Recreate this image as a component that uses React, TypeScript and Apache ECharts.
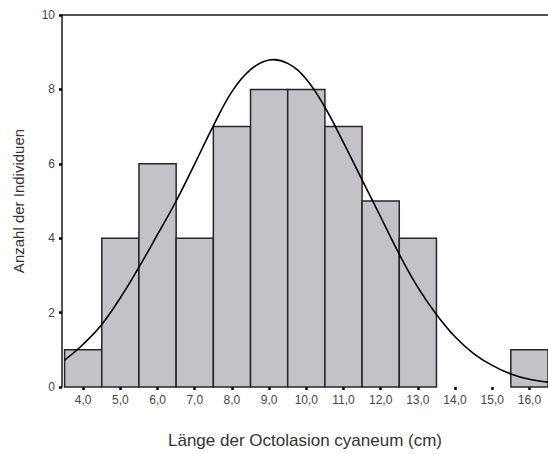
import React, { useEffect, useRef } from "react";
import * as echarts from "echarts";

const binCenters = [4, 5, 6, 7, 8, 9, 10, 11, 12, 13, 14, 15, 16];
const counts = [1, 4, 6, 4, 7, 8, 8, 7, 5, 4, 0, 0, 1];
const xTicks = [4, 5, 6, 7, 8, 9, 10, 11, 12, 13, 14, 15, 16];
const yTicks = [0, 2, 4, 6, 8, 10];
const curveX = [3.5, 4.0, 4.5, 5.0, 5.5, 6.0, 6.5, 7.0, 7.5, 8.0, 8.5, 9.0, 9.5, 10.0, 10.5, 11.0, 11.5, 12.0, 12.5, 13.0, 13.5, 14.0, 14.5, 15.0, 15.5, 16.0, 16.5];
const curveY = [0.72, 1.15, 1.68, 2.4, 3.22, 4.1, 5.0, 6.0, 7.02, 7.94, 8.53, 8.79, 8.7, 8.27, 7.52, 6.57, 5.57, 4.57, 3.57, 2.68, 1.95, 1.35, 0.9, 0.58, 0.35, 0.21, 0.13];

export default function App() {
  const ref = useRef<HTMLDivElement>(null);
  useEffect(() => {
    if (!ref.current) return;
    const chart = echarts.init(ref.current, undefined, { renderer: "svg" });
    const font = "'Liberation Sans', Arial, sans-serif";
    const barData = binCenters.map((c, i) => [c, counts[i]]);
    const curve = curveX.map((x, i) => [x, curveY[i]]);
    chart.setOption({
      animation: false,
      grid: { left: 62, top: 15, right: 0, bottom: 67 },
      xAxis: [
        {
          type: "value",
          min: 3.43,
          max: 16.5,
          splitLine: { show: false },
          axisLine: { show: false },
          axisTick: { show: true, customValues: xTicks, length: 3, lineStyle: { color: "#000", width: 2.5 } },
          axisLabel: {
            customValues: xTicks,
            formatter: (v: number) => v.toFixed(1).replace(".", ","),
            color: "#444",
            fontSize: 12,
            fontFamily: font,
            margin: 7,
          },
          name: "Länge der Octolasion cyaneum (cm)",
          nameLocation: "middle",
          nameGap: 45,
          nameTextStyle: { color: "#333", fontSize: 17, fontFamily: font },
        },
        {
          type: "value",
          position: "top",
          min: 3.43,
          max: 16.5,
          splitLine: { show: false },
          axisLine: { show: true, lineStyle: { color: "#1a1a1a", width: 1.5 } },
          axisTick: { show: false },
          axisLabel: { show: false },
        },
      ],
      yAxis: {
        type: "value",
        min: 0,
        max: 10,
        interval: 2,
        splitLine: { show: false },
        axisLine: { show: true, lineStyle: { color: "#1a1a1a", width: 1.5 } },
        axisTick: { show: true, length: 3, lineStyle: { color: "#000", width: 2.5 } },
        axisLabel: {
          color: "#444",
          fontSize: 12,
          fontFamily: font,
          margin: 7,
          customValues: yTicks,
        },
        name: "Anzahl der Individuen",
        nameLocation: "middle",
        nameGap: 36,
        nameTextStyle: { color: "#333", fontSize: 15, fontFamily: font },
      },
      series: [
        {
          type: "custom",
          data: barData,
          renderItem: (params: any, api: any) => {
            const c = api.value(0);
            const v = api.value(1);
            if (!v) return null;
            const p0 = api.coord([c - 0.5, 0]);
            const p1 = api.coord([c + 0.5, v]);
            return {
              type: "rect",
              shape: { x: p0[0], y: p1[1], width: p1[0] - p0[0], height: p0[1] - p1[1] },
              style: { fill: "#c5c2c7", stroke: "#262626", lineWidth: 1.5 },
            };
          },
          encode: { x: 0, y: 1 },
          z: 2,
        },
        {
          type: "custom",
          data: [curve[0]],
          encode: { x: 0, y: 1 },
          renderItem: (params: any, api: any) => {
            if (params.dataIndex !== 0) return null;
            const pts = curve.map((p) => api.coord(p));
            return {
              type: "polyline",
              shape: { points: pts, smooth: 0.4 },
              style: { fill: "none", stroke: "#000", lineWidth: 1.6 },
            };
          },
          z: 3,
        },
      ],
    });
    return () => chart.dispose();
  }, []);
  return <div ref={ref} style={{ width: 548, height: 454, position: "absolute", left: 0, top: 0 }} />;
}
